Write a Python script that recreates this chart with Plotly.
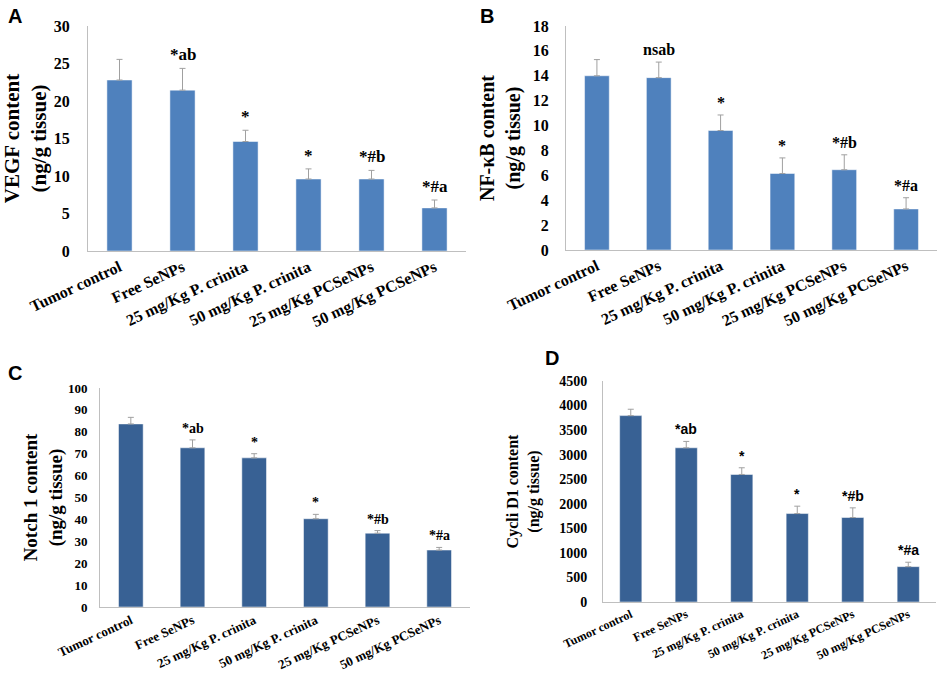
import plotly.graph_objects as go

# 群名
groups = ['Tumor control', 'Free SeNPs', '25 mg/Kg P. crinita', '50 mg/Kg P. crinita',
          '25 mg/Kg PCSeNPs', '50 mg/Kg PCSeNPs']

# A: VEGF
vegf_mean = [22.8, 21.45, 14.6, 9.6, 9.6, 5.75]
vegf_err = [2.75, 2.9, 1.5, 1.35, 1.15, 1.05]
vegf_sig = ['', '*ab', '*', '*', '*#b', '*#a']

# B: NF-κB
nfkb_mean = [14.0, 13.85, 9.6, 6.15, 6.45, 3.3]
nfkb_err = [1.3, 1.25, 1.25, 1.25, 1.2, 0.9]
nfkb_sig = ['', 'nsab', '*', '*', '*#b', '*#a']

# C: Notch 1
notch_mean = [83.6, 72.7, 68.1, 40.3, 33.7, 26.0]
notch_err = [3.0, 3.6, 1.9, 2.0, 1.2, 1.2]
notch_sig = ['', '*ab', '*', '*', '*#b', '*#a']

# D: Cyclin D1
cycd_mean = [3795, 3140, 2597, 1801, 1720, 720]
cycd_err = [130, 130, 136, 150, 197, 90]
cycd_sig = ['', '*ab', '*', '*', '*#b', '*#a']

serif = 'Liberation Serif'
sans = 'Liberation Sans'
light_blue = '#4F81BD'
dark_blue = '#386194'

panels = [
    # (平均, 誤差, 記号, 色, x範囲px, y範囲px, 上限, dtick, タイトル,
    #  目盛サイズ, x目盛サイズ, 記号フォント, 記号サイズ, タイトルサイズ, 目盛間隔, タイトル間隔)
    (vegf_mean, vegf_err, vegf_sig, light_blue, [88, 466], [26, 251], 30, 5,
     'VEGF content<br>(ng/g tissue)', 16, 16, serif, 17, 21, 14, 6),
    (nfkb_mean, nfkb_err, nfkb_sig, light_blue, [566, 937], [26, 250], 18, 2,
     'NF-κB content<br>(ng/g tissue)', 16, 16, serif, 16, 20, 13, 6),
    (notch_mean, notch_err, notch_sig, dark_blue, [100, 470], [388, 607], 100, 10,
     'Notch 1 content<br>(ng/g tissue)', 13, 13, serif, 14, 19, 9, 0),
    (cycd_mean, cycd_err, cycd_sig, dark_blue, [603, 936], [381, 602], 4500, 500,
     'Cycli D1 content<br>(ng/g tissue)', 14, 12, sans, 14, 16, 12, 15),
]

W, H = 941, 690
fig = go.Figure()
annotations = []
layout = {}

for i, (mean, err, sig, color, xr, yr, ymax, dt, title, tsize, xsize,
        sigfont, sigsize, titsize, tstand, titstand) in enumerate(panels):
    n = '' if i == 0 else str(i + 1)
    fig.add_trace(go.Bar(
        x=groups, y=mean, marker_color=color, width=0.4,
        marker_line=dict(color='white', width=0.5),
        error_y=dict(type='data', array=err, arrayminus=[0] * len(err), symmetric=False,
                     color='#a0a0a0', thickness=1, width=3),
        xaxis='x' + n, yaxis='y' + n, showlegend=False,
    ))
    layout['xaxis' + n] = dict(
        domain=[xr[0] / W, xr[1] / W], anchor='y' + n, automargin=False,
        showline=True, linecolor='#bfbfbf', linewidth=1, ticks='',
        tickangle=-25, tickfont=dict(family=serif, size=xsize, color='black', weight='bold'),
        range=[-0.5, 5.5],
    )
    layout['yaxis' + n] = dict(
        domain=[(H - yr[1]) / H, (H - yr[0]) / H], anchor='x' + n, automargin=False,
        range=[0, ymax], dtick=dt, showgrid=False, zeroline=False,
        showline=True, linecolor='#bfbfbf', linewidth=1, ticks='',
        ticklabelstandoff=tstand,
        tickfont=dict(family=serif, size=tsize, color='black', weight='bold'),
        title=dict(text='<b>' + title + '</b>', standoff=titstand,
                   font=dict(family=serif, size=titsize, color='black')),
    )
    for g, m, e, s in zip(groups, mean, err, sig):
        if s:
            annotations.append(dict(
                x=g, y=m + e, xref='x' + n, yref='y' + n, text='<b>' + s + '</b>',
                showarrow=False, yanchor='bottom', yshift=2,
                font=dict(family=sigfont, size=sigsize, color='black'),
            ))

# パネルラベル
for lab, px_, py_ in [('A', 6, 16), ('B', 478, 16), ('C', 6, 373), ('D', 543, 358)]:
    annotations.append(dict(
        x=px_ / W, y=1 - py_ / H, xref='paper', yref='paper', text='<b>' + lab + '</b>',
        showarrow=False, xanchor='left', yanchor='middle',
        font=dict(family=sans, size=20, color='black'),
    ))

fig.update_layout(
    width=W, height=H, margin=dict(l=0, r=0, t=0, b=0),
    plot_bgcolor='white', paper_bgcolor='white',
    annotations=annotations, bargap=0.6,
    **layout,
)

# bodyの余白を消す
fig.write_html('out.html', config={'displayModeBar': False},
               post_script="document.body.style.margin='0';")
